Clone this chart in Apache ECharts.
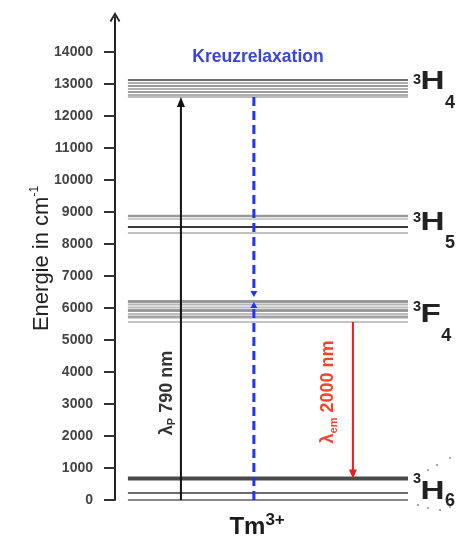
<!DOCTYPE html>
<html><head><meta charset="utf-8">
<script src="https://cdn.jsdelivr.net/npm/echarts@6/dist/echarts.min.js"></script>
<style>html,body{margin:0;padding:0;background:#fff}#c{width:463px;height:539px}</style>
</head><body><div id="c"></div>
<script>
// ---------- data ----------
const yTicks = [0,1000,2000,3000,4000,5000,6000,7000,8000,9000,10000,11000,12000,13000,14000];
const levelTerms = [['3','H','4'],['3','H','5'],['3','F','4'],['3','H','6']];
const levelH4 = [13125, 13030, 12940, 12845, 12750, 12655, 12595];
const levelH5 = [8875, 8780, 8530, 8345];
const levelF4 = [6205, 6110, 6015, 5920, 5815, 5720, 5565];
const levelH6 = [672, 219, 0];
const transX    = [22.5, 47.4, 47.4, 81.2];
const transFrom = [0, 12595, 0, 5565];
const transTo   = [12595, 6344, 6188, 672];
const transKind = [0, 1, 1, 2];
const arrowLabels = ['λ{s|P} 790 nm', 'λ{s|em} 2000 nm'];
const arrowLabelX = [17.7, 72.7];
const arrowLabelE = [3344, 3375];
const titleText = 'Kreuzrelaxation';
const titleX = 48.8, titleE = 13828;
const ionText = 'Tm{sup|3+}';
const ionX = 48.5;
const yName = 'Energie in cm{sup|-1}';

// ---------- styles / layout ----------
const X_START = 4.4, X_END = 100;
const FONT = 'Liberation Sans, Arial, sans-serif';
const levelStyles = [
  [['#6e6e6e',2],['#b0b0b0',2],['#9a9a9a',2],['#b4b4b4',2],['#9a9a9a',2],['#b0b0b0',2],['#bdbdbd',2]],
  [['#999999',2.5],['#bbbbbb',1.5],['#3a3a3a',2],['#c0c0c0',2]],
  [['#9a9a9a',3],['#b5b5b5',2],['#bdbdbd',2],['#9a9a9a',3],['#bdbdbd',2],['#a5a5a5',3],['#b0b0b0',1.5]],
  [['#4a4a4a',4],['#6a6a6a',2],['#888888',2]]
];
// label layout (px relative to top line of each band)
const labelMainDy = [2, 6.5, 13.5, 13];
const labelSupDy  = [-10, -12.5, -15, -19.5];
const labelSubDy  = [21, 21, 21, 10];
const dotOffsets = [[7.5,-21.5],[16.5,-26.5],[29.5,-33.5],[-2.5,13.5],[7.5,16.5],[19.5,18.5],[29.5,15.5]];
const arrowStyles = [
  {color:'#111111', width:2, dash:null, headW:8, headL:10},
  {color:'#2036f0', width:3, dash:[9,5], headW:7, headL:6},
  {color:'#ee1c1c', width:2, dash:null, headW:8, headL:9}
];
const bands = [levelH4, levelH5, levelF4, levelH6];

const levelData = [];
bands.forEach((arr,b)=>arr.forEach((e,i)=>levelData.push([X_START, e, b, i])));
const labelData = bands.map((arr,b)=>[X_END, arr[0], b]);
const transData = transX.map((x,i)=>[x, transFrom[i], transTo[i], transKind[i]]);
const arrowLabelData = arrowLabelX.map((x,i)=>[x, arrowLabelE[i], i]);

const chart = echarts.init(document.getElementById('c'), null, {renderer:'canvas'});
chart.setOption({
  animation:false,
  backgroundColor:'#ffffff',
  grid:{left:115, right:55, top:17, bottom:39, containLabel:false},
  xAxis:{type:'value', min:0, max:100, show:false},
  yAxis:{
    type:'value', min:0, max:15094,
    name: yName, nameLocation:'middle', nameGap:60, nameMoveOverlap:false,
    nameTextStyle:{fontSize:22, color:'#222', fontFamily:FONT, lineHeight:26,
      rich:{sup:{fontSize:12, color:'#222', fontFamily:FONT, verticalAlign:'top', lineHeight:12}}},
    axisLine:{show:true, lineStyle:{color:'#222', width:2},
      symbol:['none','path://M0,10 L6,0 L12,10 L10.2,11.2 L6,4 L1.8,11.2 Z'], symbolSize:[13,10]},
    axisTick:{show:true, length:11, lineStyle:{color:'#333', width:2}, customValues:yTicks},
    axisLabel:{show:true, margin:22, fontSize:14, fontWeight:'bold', color:'#444', fontFamily:FONT,
      customValues:yTicks, formatter:function(v){return String(v);}},
    splitLine:{show:false}
  },
  series:[
    {type:'custom', clip:false, silent:true, data:levelData,
      renderItem:function(params, api){
        const e = api.value(1), b = api.value(2), i = api.value(3);
        const p0 = api.coord([X_START, e]), p1 = api.coord([X_END, e]);
        const st = levelStyles[b][i];
        return {type:'line', shape:{x1:p0[0], y1:p0[1], x2:p1[0], y2:p1[1]}, style:{stroke:st[0], lineWidth:st[1]}};
      }},
    {type:'custom', clip:false, silent:true, data:labelData,
      renderItem:function(params, api){
        const b = api.value(2);
        const p = api.coord([api.value(0), api.value(1)]);
        const t = levelTerms[b];
        const hx = p[0] + 12.5, cy = p[1] + labelMainDy[b];
        const fs = 26, sx = 1.28;
        const adv = (t[1] === 'F' ? 0.611 : 0.722) * fs * sx;
        const ch = [
          {type:'text', x:p[0]+5, y:cy+labelSupDy[b], style:{text:t[0], fill:'#222', fontSize:14.5, fontWeight:'bold', fontFamily:FONT, align:'left', verticalAlign:'top'}},
          {type:'text', x:hx, y:cy, scaleX:sx, style:{text:t[1], fill:'#222', fontSize:fs, fontWeight:'bold', fontFamily:FONT, align:'left', verticalAlign:'middle'}},
          {type:'text', x:hx+adv+0.5, y:cy+labelSubDy[b], style:{text:t[2], fill:'#222', fontSize:18, fontWeight:'bold', fontFamily:FONT, align:'left', verticalAlign:'middle'}}
        ];
        if (b === 3) {
          dotOffsets.forEach(function(d){
            ch.push({type:'circle', shape:{cx:hx+d[0], cy:cy+d[1], r:1}, style:{fill:'#8a8a8a'}});
          });
        }
        return {type:'group', children:ch};
      }},
    {type:'custom', clip:false, silent:true, data:transData,
      renderItem:function(params, api){
        const x = api.value(0), f = api.value(1), t = api.value(2), k = api.value(3);
        const s = arrowStyles[k];
        const p0 = api.coord([x, f]), p1 = api.coord([x, t]);
        const dir = Math.sign(p1[1]-p0[1]);
        const shaftEnd = p1[1] - dir*s.headL*0.7;
        return {type:'group', children:[
          {type:'line', shape:{x1:p0[0], y1:p0[1], x2:p1[0], y2:shaftEnd}, style:{stroke:s.color, lineWidth:s.width, lineDash:s.dash}},
          {type:'polygon', shape:{points:[[p1[0],p1[1]],[p1[0]-s.headW/2,p1[1]-dir*s.headL],[p1[0]+s.headW/2,p1[1]-dir*s.headL]]}, style:{fill:s.color}}
        ]};
      }},
    {type:'custom', clip:false, silent:true, data:arrowLabelData,
      renderItem:function(params, api){
        const i = api.value(2);
        const p = api.coord([api.value(0), api.value(1)]);
        const col = i === 0 ? '#333333' : '#f0452c';
        return {type:'text', x:p[0], y:p[1], rotation:Math.PI/2,
          style:{text:arrowLabels[i], fill:col, fontSize:18, fontWeight:'bold', fontFamily:FONT, align:'center', verticalAlign:'middle', lineHeight:22,
            rich:{s:{fontSize:11, fontWeight:'bold', fill:col, fontFamily:FONT, verticalAlign:'bottom', lineHeight:12}}}};
      }},
    {type:'custom', clip:false, silent:true, data:[[titleX, titleE]],
      renderItem:function(params, api){
        const p = api.coord([api.value(0), api.value(1)]);
        return {type:'text', x:p[0], y:p[1], style:{text:titleText, fill:'#3b46d6', fontSize:17.5, fontWeight:'bold', fontFamily:FONT, align:'center', verticalAlign:'middle'}};
      }},
    {type:'custom', clip:false, silent:true, data:[[ionX, 0]],
      renderItem:function(params, api){
        const p = api.coord([api.value(0), api.value(1)]);
        return {type:'text', x:p[0], y:p[1]+27, style:{text:ionText, fill:'#1a1a1a', fontSize:24, fontWeight:'bold', fontFamily:FONT, align:'center', verticalAlign:'middle', lineHeight:30,
          rich:{sup:{fontSize:17, fontWeight:'bold', fill:'#1a1a1a', fontFamily:FONT, verticalAlign:'top', lineHeight:17}}}};
      }}
  ]
});
</script>
</body></html>
